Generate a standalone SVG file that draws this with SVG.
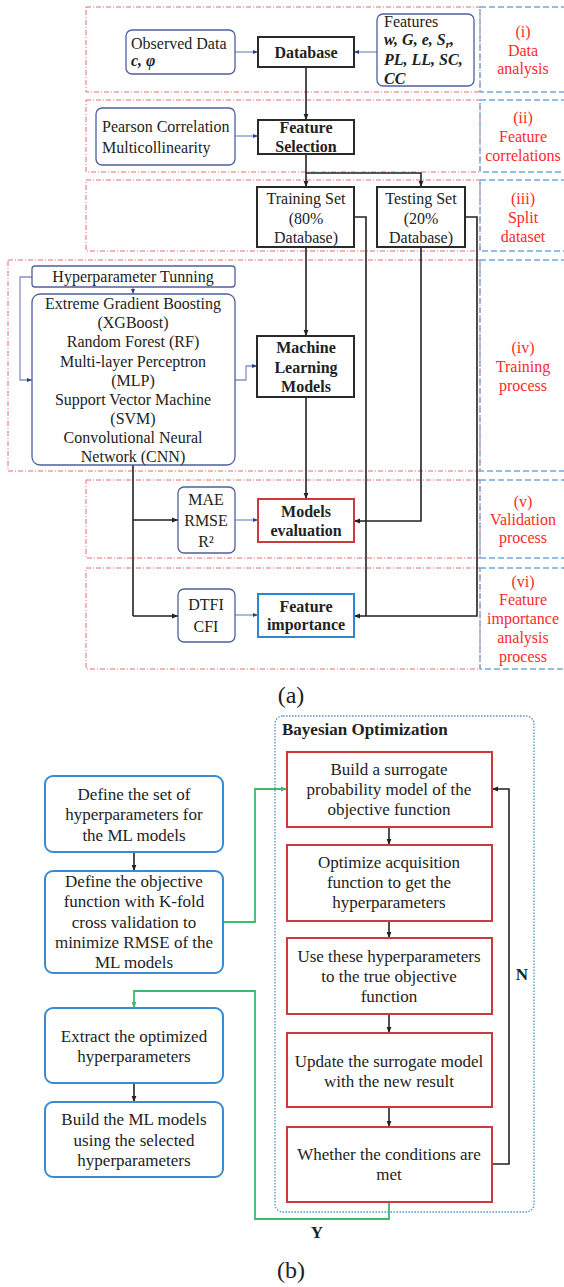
<svg xmlns="http://www.w3.org/2000/svg" width="564" height="1287" viewBox="0 0 564 1287">
<defs>
<style>
.t{font-family:"Liberation Serif","Times New Roman",serif;font-size:16px;fill:#222}
.c{text-anchor:middle}
.b{font-weight:bold}
.bi{font-weight:bold;font-style:italic}
.s{fill:#ff2a2a;text-anchor:middle}
.l{font-size:17px}
.cap{font-size:24px}
.reg{fill:none;stroke:#e66a6a;stroke-width:1;stroke-dasharray:5 2 1 2}
.sreg{fill:none;stroke:#72a9dc;stroke-width:1.3;stroke-dasharray:6 3}
.sl{fill:#fff;stroke:#4e5f9e;stroke-width:1.3}
.bk{fill:#fff;stroke:#2a2a2a;stroke-width:2}
.rd{fill:#fff;stroke:#cc3b3b;stroke-width:2}
.bl{fill:#fff;stroke:#2f86c8;stroke-width:2}
.lb{fill:#fff;stroke:#3a8bd2;stroke-width:2}
.ck{fill:none;stroke:#222;stroke-width:1.6}
.cs{fill:none;stroke:#8593c4;stroke-width:1.3}
.cg{fill:none;stroke:#3dbb6c;stroke-width:1.8}
</style>
<marker id="ak" viewBox="0 0 10 10" refX="10" refY="5" markerWidth="6" markerHeight="6" markerUnits="userSpaceOnUse" orient="auto"><path d="M0,1 L10,5 L0,9 z" fill="#222"/></marker>
<marker id="as" viewBox="0 0 10 10" refX="10" refY="5" markerWidth="5" markerHeight="5" markerUnits="userSpaceOnUse" orient="auto"><path d="M0,1 L10,5 L0,9 z" fill="#2c3e8c"/></marker>
<marker id="ag" viewBox="0 0 10 10" refX="10" refY="5" markerWidth="6" markerHeight="6" markerUnits="userSpaceOnUse" orient="auto"><path d="M0,1 L10,5 L0,9 z" fill="#3dbb6c"/></marker>
</defs>
<rect width="564" height="1287" fill="#fff"/>

<g id="regions">
<rect class="reg" x="86" y="7" width="394" height="85"/>
<rect class="sreg" x="480" y="7" width="90" height="85"/>
<rect class="reg" x="86" y="100" width="394" height="72"/>
<rect class="sreg" x="480" y="100" width="90" height="72"/>
<rect class="reg" x="86" y="180" width="394" height="71"/>
<rect class="sreg" x="480" y="180" width="90" height="71"/>
<rect class="reg" x="8" y="260" width="472" height="211"/>
<rect class="sreg" x="480" y="260" width="90" height="211"/>
<rect class="reg" x="86" y="480" width="394" height="78"/>
<rect class="sreg" x="480" y="480" width="90" height="78"/>
<rect class="reg" x="86" y="568" width="394" height="101"/>
<rect class="sreg" x="480" y="568" width="90" height="101"/>
</g>

<g id="side-labels" class="t s">
<text x="523" y="37">(i)</text><text x="523" y="56">Data</text><text x="523" y="74">analysis</text>
<text x="523" y="123">(ii)</text><text x="523" y="142">Feature</text><text x="523" y="161">correlations</text>
<text x="523" y="204">(iii)</text><text x="523" y="223">Split</text><text x="523" y="242">dataset</text>
<text x="523" y="353">(iv)</text><text x="523" y="372">Training</text><text x="523" y="391">process</text>
<text x="523" y="507">(v)</text><text x="523" y="525">Validation</text><text x="523" y="543">process</text>
<text x="523" y="587">(vi)</text><text x="523" y="605">Feature</text><text x="523" y="624">importance</text><text x="523" y="643">analysis</text><text x="523" y="662">process</text>
</g>

<g id="connectors">
<line class="cs" x1="235" y1="52" x2="258" y2="52" marker-end="url(#as)"/>
<line class="cs" x1="377" y1="52" x2="354" y2="52" marker-end="url(#as)"/>
<line class="ck" x1="306" y1="67" x2="306" y2="120" marker-end="url(#ak)"/>
<line class="cs" x1="235" y1="136" x2="258" y2="136" marker-end="url(#as)"/>
<line class="ck" x1="306" y1="154" x2="306" y2="187" marker-end="url(#ak)"/>
<polyline class="ck" points="306,173 421,173 421,187" marker-end="url(#ak)"/>
<line class="ck" x1="306" y1="247" x2="306" y2="336" marker-end="url(#ak)"/>
<polyline class="ck" points="354,217 366,217 366,616"/>
<polyline class="ck" points="465,217 477,217 477,616 354,616" marker-end="url(#ak)"/>
<polyline class="ck" points="421,247 421,521 354,521" marker-end="url(#ak)"/>
<line class="cs" x1="133" y1="287" x2="133" y2="294" marker-end="url(#as)"/>
<polyline class="cs" points="32,277 20,277 20,380 32,380" marker-end="url(#as)"/>
<polyline class="cs" points="235,380 246,380 246,366 257,366" marker-end="url(#as)"/>
<line class="ck" x1="306" y1="397" x2="306" y2="499" marker-end="url(#ak)"/>
<line class="ck" x1="133" y1="465" x2="133" y2="616"/>
<line class="ck" x1="133" y1="520" x2="178" y2="520" marker-end="url(#ak)"/>
<line class="ck" x1="133" y1="616" x2="178" y2="616" marker-end="url(#ak)"/>
<line class="cs" x1="235" y1="520" x2="258" y2="520" marker-end="url(#as)"/>
<line class="cs" x1="235" y1="615" x2="258" y2="615" marker-end="url(#as)"/>

<line class="ck" x1="134" y1="852" x2="134" y2="871" stroke-width="1.3" marker-end="url(#ak)"/>
<line class="ck" x1="134" y1="1083" x2="134" y2="1102" stroke-width="1.3" marker-end="url(#ak)"/>
<line class="ck" x1="389" y1="827" x2="389" y2="845" stroke-width="1.3" marker-end="url(#ak)"/>
<line class="ck" x1="389" y1="921" x2="389" y2="938" stroke-width="1.3" marker-end="url(#ak)"/>
<line class="ck" x1="389" y1="1014" x2="389" y2="1033" stroke-width="1.3" marker-end="url(#ak)"/>
<line class="ck" x1="389" y1="1107" x2="389" y2="1127" stroke-width="1.3" marker-end="url(#ak)"/>
<polyline class="ck" points="492,1164 509,1164 509,789 492,789" marker-end="url(#ak)"/>
<polyline class="cg" points="223,922 255,922 255,789 287,789" marker-end="url(#ag)"/>
<polyline class="cg" points="389,1202 389,1219 255,1219 255,991 134,991 134,1008" marker-end="url(#ag)"/>
</g>

<g id="observed-data"><rect class="sl" x="126" y="30" width="109" height="44" rx="6"/>
<text class="t" x="131" y="49">Observed Data</text><text class="t bi" x="131" y="66">c, φ</text></g>
<g id="database"><rect class="bk" x="258" y="37" width="96" height="30"/><text class="t b c" x="306" y="58">Database</text></g>
<g id="features"><rect class="sl" x="377" y="14" width="97" height="72" rx="6"/>
<text class="t" x="384" y="27">Features</text>
<text class="t bi" x="384" y="45">w, G, e, S<tspan font-size="11" dy="3">r</tspan><tspan dy="-3">,</tspan></text>
<text class="t bi" x="384" y="65">PL, LL, SC,</text>
<text class="t bi" x="384" y="84">CC</text></g>
<g id="pearson"><rect class="sl" x="96" y="108" width="139" height="57" rx="6"/>
<text class="t" x="102" y="132">Pearson Correlation</text><text class="t" x="102" y="153">Multicollinearity</text></g>
<g id="feature-selection"><rect class="bk" x="258" y="120" width="96" height="34"/>
<text class="t b c" x="306" y="133">Feature</text><text class="t b c" x="306" y="152">Selection</text></g>
<g id="training-set"><rect class="bk" x="257" y="187" width="97" height="60"/>
<text class="t c" x="306" y="204">Training Set</text><text class="t c" x="306" y="224">(80%</text><text class="t c" x="306" y="243">Database)</text></g>
<g id="testing-set"><rect class="bk" x="377" y="187" width="88" height="60"/>
<text class="t c" x="421" y="204">Testing Set</text><text class="t c" x="421" y="224">(20%</text><text class="t c" x="421" y="243">Database)</text></g>
<g id="hyperparameter"><rect class="sl" x="32" y="266" width="203" height="21" rx="3"/>
<text class="t c" x="133" y="282">Hyperparameter Tunning</text></g>
<g id="ml-algorithms"><rect class="sl" x="32" y="294" width="203" height="171" rx="8"/>
<text class="t c" x="133" y="309">Extreme Gradient Boosting</text>
<text class="t c" x="133" y="328">(XGBoost)</text>
<text class="t c" x="133" y="347">Random Forest (RF)</text>
<text class="t c" x="133" y="367">Multi-layer Perceptron</text>
<text class="t c" x="133" y="386">(MLP)</text>
<text class="t c" x="133" y="405">Support Vector Machine</text>
<text class="t c" x="133" y="424">(SVM)</text>
<text class="t c" x="133" y="443">Convolutional Neural</text>
<text class="t c" x="133" y="462">Network (CNN)</text></g>
<g id="ml-models"><rect class="bk" x="257" y="336" width="97" height="61"/>
<text class="t b c" x="306" y="353">Machine</text><text class="t b c" x="306" y="373">Learning</text><text class="t b c" x="306" y="392">Models</text></g>
<g id="metrics"><rect class="sl" x="178" y="487" width="57" height="66" rx="6"/>
<text class="t c" x="206" y="505">MAE</text><text class="t c" x="206" y="526">RMSE</text><text class="t c" x="206" y="547">R²</text></g>
<g id="models-evaluation"><rect class="rd" x="258" y="499" width="96" height="43"/>
<text class="t b c" x="306" y="517">Models</text><text class="t b c" x="306" y="536">evaluation</text></g>
<g id="fi-methods"><rect class="sl" x="178" y="589" width="57" height="53" rx="6"/>
<text class="t c" x="206" y="610">DTFI</text><text class="t c" x="206" y="632">CFI</text></g>
<g id="feature-importance"><rect class="bl" x="258" y="594" width="96" height="43"/>
<text class="t b c" x="306" y="612">Feature</text><text class="t b c" x="306" y="630">importance</text></g>
<text class="t c cap" x="291" y="703">(a)</text>

<g id="bayesian-optimization"><rect x="275" y="716" width="259" height="496" rx="8" fill="none" stroke="#4a90d0" stroke-width="1.3" stroke-dasharray="1.5 1.5"/>
<text class="t l b" x="282" y="735">Bayesian Optimization</text></g>
<g id="bo-surrogate"><rect class="rd" x="287" y="752" width="205" height="75"/>
<text class="t l c" x="389" y="775">Build a surrogate</text><text class="t l c" x="389" y="795">probability model of the</text><text class="t l c" x="389" y="815">objective function</text></g>
<g id="bo-acquisition"><rect class="rd" x="287" y="845" width="205" height="76"/>
<text class="t l c" x="389" y="868">Optimize acquisition</text><text class="t l c" x="389" y="888">function to get the</text><text class="t l c" x="389" y="908">hyperparameters</text></g>
<g id="bo-evaluate"><rect class="rd" x="287" y="938" width="205" height="76"/>
<text class="t l c" x="389" y="962">Use these hyperparameters</text><text class="t l c" x="389" y="982">to the true objective</text><text class="t l c" x="389" y="1002">function</text></g>
<g id="bo-update"><rect class="rd" x="287" y="1033" width="205" height="74"/>
<text class="t l c" x="389" y="1067">Update the surrogate model</text><text class="t l c" x="389" y="1087">with the new result</text></g>
<g id="bo-condition"><rect class="rd" x="287" y="1127" width="205" height="75"/>
<text class="t l c" x="389" y="1160">Whether the conditions are</text><text class="t l c" x="389" y="1180">met</text></g>
<text class="t l b c" x="522" y="980">N</text>
<text class="t l b c" x="317" y="1238">Y</text>

<g id="define-set"><rect class="lb" x="45" y="776" width="178" height="76" rx="8"/>
<text class="t l c" x="134" y="800">Define the set of</text><text class="t l c" x="134" y="820">hyperparameters for</text><text class="t l c" x="134" y="841">the ML models</text></g>
<g id="define-objective"><rect class="lb" x="45" y="871" width="178" height="102" rx="8"/>
<text class="t l c" x="134" y="887">Define the objective</text><text class="t l c" x="134" y="907">function with K-fold</text><text class="t l c" x="134" y="928">cross validation to</text><text class="t l c" x="134" y="948">minimize RMSE of the</text><text class="t l c" x="134" y="968">ML models</text></g>
<g id="extract"><rect class="lb" x="45" y="1008" width="178" height="75" rx="8"/>
<text class="t l c" x="134" y="1042">Extract the optimized</text><text class="t l c" x="134" y="1062">hyperparameters</text></g>
<g id="build"><rect class="lb" x="45" y="1102" width="178" height="75" rx="8"/>
<text class="t l c" x="134" y="1125">Build the ML models</text><text class="t l c" x="134" y="1146">using the selected</text><text class="t l c" x="134" y="1166">hyperparameters</text></g>
<text class="t c cap" x="291" y="1278">(b)</text>
</svg>
